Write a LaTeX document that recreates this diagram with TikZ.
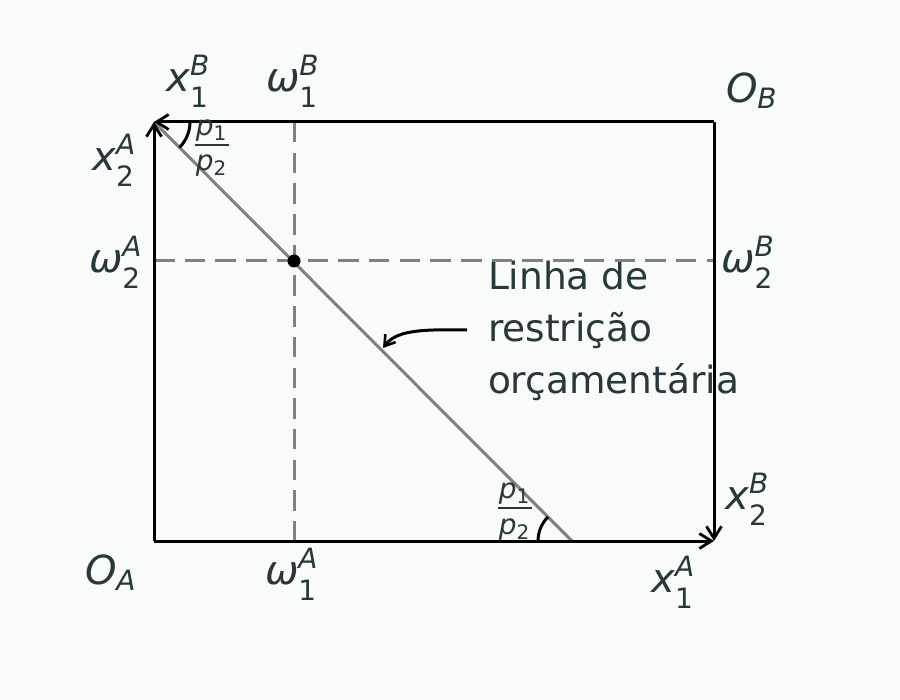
\documentclass[tikz,border=0pt]{standalone}
\usepackage{fontspec}
\setmainfont{DejaVu Sans}
\usetikzlibrary{arrows.meta}
\definecolor{txt}{RGB}{40,55,58}
\definecolor{bg}{RGB}{249,250,250}
\definecolor{dgray}{RGB}{128,128,128}
\newcommand\bigf{\fontsize{37.5}{45}\selectfont}
\newcommand\mathf{\fontsize{40}{48}\selectfont}
\newcommand\smf{\fontsize{28}{32}\selectfont}
\newcommand\tinyf{\fontsize{20}{22}\selectfont}
\newcommand\lab[3]{\textit{#1}\rlap{\raisebox{16pt}{\smf\textit{#2}}}\raisebox{-16pt}{\smf #3}}
\newcommand\labsub[2]{\textit{#1}\raisebox{-6pt}{\smf\textit{#2}}}
\newcommand\pp[1]{\textit{p}\raisebox{-5pt}{\tinyf #1}}
\begin{document}
\begin{tikzpicture}[x=1pt,y=-1pt,
  lbl/.style={inner sep=0pt,outer sep=0pt,anchor=base west,text=txt,font=\mathf},
  txtl/.style={inner sep=0pt,outer sep=0pt,anchor=base west,text=txt,font=\bigf},
  frac/.style={inner sep=0pt,outer sep=0pt,anchor=base,text=txt,font=\smf},
  axis/.style={line width=3pt,black,-{Straight Barb[length=12pt,width=15pt,line width=2.8pt]}},
  dashedline/.style={line width=3pt,dgray,dash pattern=on 20.5pt off 10.2pt},
  budget/.style={line width=3pt,dgray},
  anglearc/.style={line width=3pt,black}]
\fill[bg] (0,0) rectangle (900,700);
\useasboundingbox (0,0) rectangle (900,700);
% corners
\coordinate (OA) at (154,541);
\coordinate (OB) at (714,122);
\coordinate (TL) at (154,122);
\coordinate (BR) at (714,541);
\coordinate (W1t) at (294,122);
\coordinate (W1b) at (294,541);
\coordinate (W2l) at (154,261);
\coordinate (W2r) at (714,261);
\coordinate (BX) at (572,541);
% text block
\node[txtl] (t1) at (488,290) {Linha de};
\node[txtl] (t2) at (488,342) {restrição};
\node[txtl] (t3) at (488,394) {orçamentária};
% dashed lines
\draw[dashedline] (W1t) -- (W1b);
\draw[dashedline] (W2l) -- (W2r);
% budget line
\draw[budget] (TL) -- (BX);
\fill[black] (294,261) circle (6.5pt);
\node[inner sep=0pt] (dot) at (294,261) {};
% axes
\draw[axis] (OA) -- (TL);
\draw[axis] (OA) -- (BR);
\draw[axis] (OB) -- (TL);
\draw[axis] (OB) -- (BR);
% angle arcs
\draw[anglearc] (190,122) arc[start angle=0,end angle=45,radius=36];
\draw[anglearc] (538,541) arc[start angle=180,end angle=225,radius=34];
% annotation arrow
\coordinate (annS) at (467,330);
\coordinate (annE) at (383,348);
\draw[line width=3pt,black,-{Straight Barb[length=10pt,width=13pt,line width=2.6pt]}] (annS) .. controls (418,329) and (396,331) .. (annE);
% fractions
\node[frac] (f1n) at (211,136) {\pp{1}};
\node[frac] (f1d) at (211,171) {\pp{2}};
\draw[txt,line width=2.2pt] (195,145) -- (229,145);
\node[frac] (f2n) at (514,499) {\pp{1}};
\node[frac] (f2d) at (514,534) {\pp{2}};
\draw[txt,line width=2.2pt] (498,508) -- (532,508);
% labels
\node[lbl] (x1B) at (166,92) {\lab{x}{B}{1}};
\node[lbl] (w1B) at (266,92) {\lab{ω}{B}{1}};
\node[lbl] (OBl) at (726,103) {\labsub{O}{B}};
\node[lbl] (x2A) at (92,171) {\lab{x}{A}{2}};
\node[lbl] (w2A) at (89,273) {\lab{ω}{A}{2}};
\node[lbl] (w2B) at (721,273) {\lab{ω}{B}{2}};
\node[lbl] (x2B) at (725,509) {\lab{x}{B}{2}};
\node[lbl] (OAl) at (85,584) {\labsub{O}{A}};
\node[lbl] (w1A) at (265,584) {\lab{ω}{A}{1}};
\node[lbl] (x1A) at (651,592) {\lab{x}{A}{1}};
\end{tikzpicture}
\end{document}
